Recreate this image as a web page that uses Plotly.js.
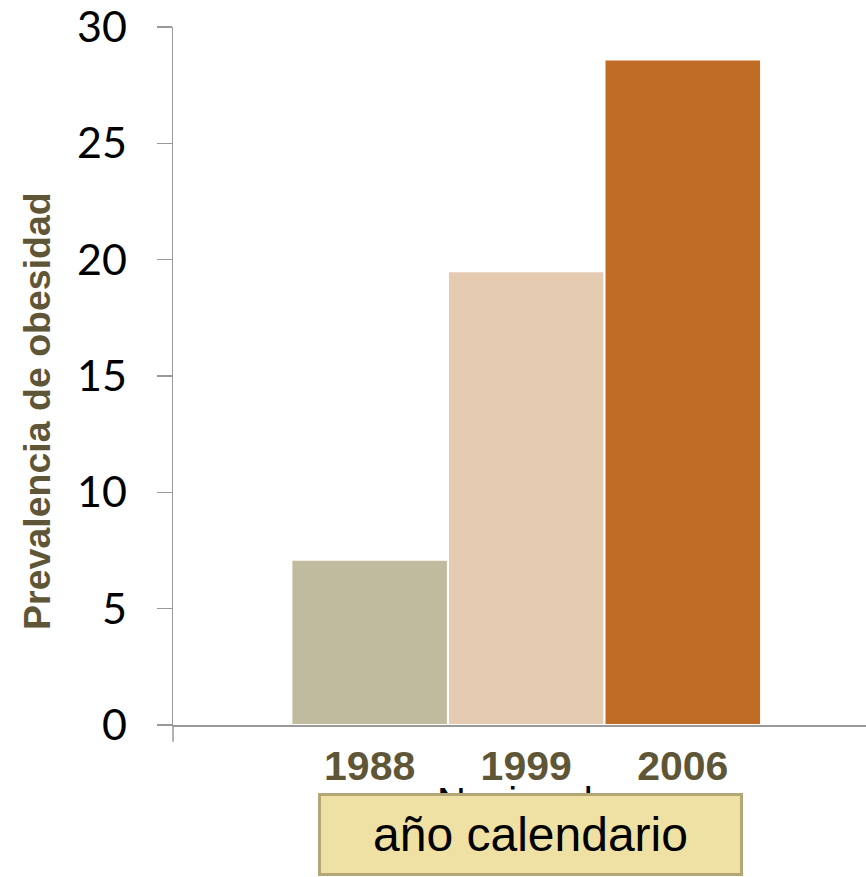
<!DOCTYPE html>
<html><head><meta charset="utf-8">
<script src="https://cdn.plot.ly/plotly-3.0.1.min.js"></script>
<style>html,body{margin:0;padding:0;background:#fff}#chart{width:866px;height:877px}</style>
</head><body><div id="chart"></div>
<script>
const categories = ["1988", "1999", "2006"];
const values = [7.1, 19.5, 28.6];
const barColors = ["#c0bb9e", "#e6cbb3", "#c16c25"];
const yTickVals = [0, 5, 10, 15, 20, 25, 30];
const yTitle = "Prevalencia de obesidad";
const hiddenXTitle = "Nacional";
const boxLabel = "año calendario";

const olive = "#5f5637";
const trace = {
  type: "bar", x: categories, y: values,
  marker: {color: barColors, line: {color: "#ffffff", width: 2}},
  hoverinfo: "none"
};
const layout = {
  width: 866, height: 877,
  margin: {l: 173, r: 0, t: 27, b: 152, pad: 0},
  paper_bgcolor: "#fff", plot_bgcolor: "#fff",
  showlegend: false, bargap: 0,
  xaxis: {type: "category", range: [-1.256, 3.17], showgrid: false, zeroline: false,
    showline: true, linecolor: "#999", linewidth: 2, ticks: "",
    tickfont: {family: "Liberation Sans, Arial, sans-serif", size: 41, color: olive, weight: "bold"},
    ticklabelstandoff: 4},
  yaxis: {range: [0, 30], tickvals: yTickVals, showgrid: false, zeroline: false,
    showline: true, linecolor: "#999", linewidth: 1.5, ticks: "outside", ticklen: 15, tickcolor: "#999", tickwidth: 1.5,
    ticklabeloverflow: "allow",
    tickfont: {family: "Lato, sans-serif", size: 43, color: "#000"}, ticklabelstandoff: 21},
  shapes: [{type: "line", xref: "paper", yref: "paper", x0: 0, x1: 0, y0: 0, y1: -0.024,
    line: {color: "#999", width: 1.5}}],
  annotations: [
    {text: "<b>" + yTitle + "</b>", xref: "paper", yref: "paper", x: -0.1962, y: 0.45,
     textangle: -90, showarrow: false, xanchor: "center", yanchor: "middle",
     font: {family: "Liberation Sans, Arial, sans-serif", size: 37.5, color: olive}},
    {text: hiddenXTitle, xref: "paper", yref: "paper", x: 0.4935, y: -0.111,
     showarrow: false, xanchor: "center", yanchor: "middle",
     font: {family: "Liberation Sans, Arial, sans-serif", size: 40, color: "#000"}},
    {text: boxLabel, xref: "paper", yref: "paper", x: 0.5159, y: -0.1569,
     showarrow: false, xanchor: "center", yanchor: "middle", width: 419, height: 77,
     bgcolor: "#efe1a3", bordercolor: "#b3a777", borderwidth: 3, borderpad: 0,
     font: {family: "Liberation Sans, Arial, sans-serif", size: 48, color: "#000"}}
  ]
};
Plotly.newPlot("chart", [trace], layout, {staticPlot: true, displayModeBar: false});
</script></body></html>
